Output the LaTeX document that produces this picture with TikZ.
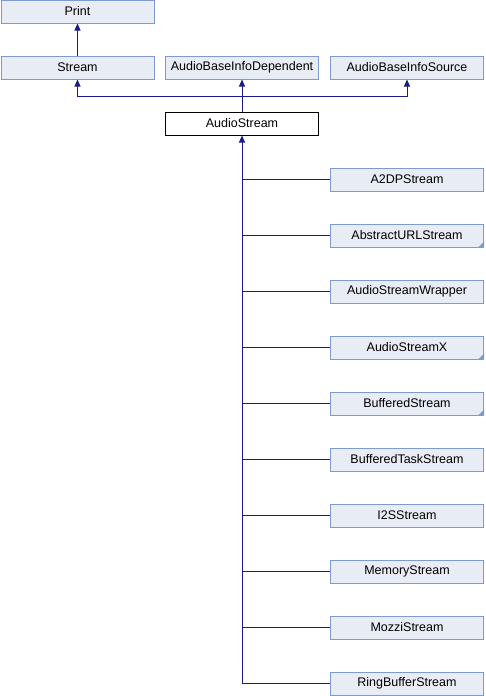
\documentclass[tikz,border=0pt]{standalone}
\usepackage{fontspec}
\setmainfont{Liberation Sans}
\usetikzlibrary{arrows.meta}
\definecolor{boxfill}{HTML}{E8ECF5}
\definecolor{boxline}{HTML}{7F9AD0}
\definecolor{edgeblue}{HTML}{1A1A8C}
\tikzset{
  cls/.style={draw=boxline,fill=boxfill,line width=1pt,minimum width=153pt,minimum height=23pt,
    inner sep=0pt,font=\fontsize{12.5}{14}\selectfont},
  cur/.style={cls,draw=black,fill=white},
  more/.style={path picture={\fill[boxline] (path picture bounding box.south east) -- ++(-6pt,0) -- ++(6pt,6pt) -- cycle;}},
  inh/.style={draw=edgeblue,line width=1pt,-{Triangle[width=6pt,length=7pt]}},
  ln/.style={draw=edgeblue,line width=1pt}
}
\begin{document}
\begin{tikzpicture}[x=1pt,y=-1pt]
      \useasboundingbox (0,0) rectangle (485,696);
      \node[cls](print) at (77.5,11.5) {Print};
      \node[cls](stream) at (77.5,67.5) {Stream};
      \node[cls](abid) at (242,67.5) {AudioBaseInfoDependent};
      \node[cls](abis) at (407,67.5) {AudioBaseInfoSource};
      \node[cur](as) at (242,123.5) {AudioStream};
      \coordinate(jn) at (242,96);
      \draw[inh](stream)--(print);
      \draw[inh](as.north)--(jn)-|(stream.south);
      \draw[inh](jn)--(abid.south);
      \draw[inh](jn)-|(abis.south);
      \foreach \nm [count=\i] in {A2DPStream,AbstractURLStream,AudioStreamWrapper,AudioStreamX,BufferedStream,
          BufferedTaskStream,I2SStream,MemoryStream,MozziStream,RingBufferStream}
        \node[cls](c\i) at (407,123.5+56*\i) {\nm};
      \foreach \i in {2,4,5}
        \path[more] (c\i.north west) rectangle (c\i.south east);
      \draw[inh](c10.west)-|(as.south);
      \foreach \i in {1,...,9}
        \draw[ln](c\i.west)--(c\i.west-|as.south);
    \end{tikzpicture}
\end{document}
